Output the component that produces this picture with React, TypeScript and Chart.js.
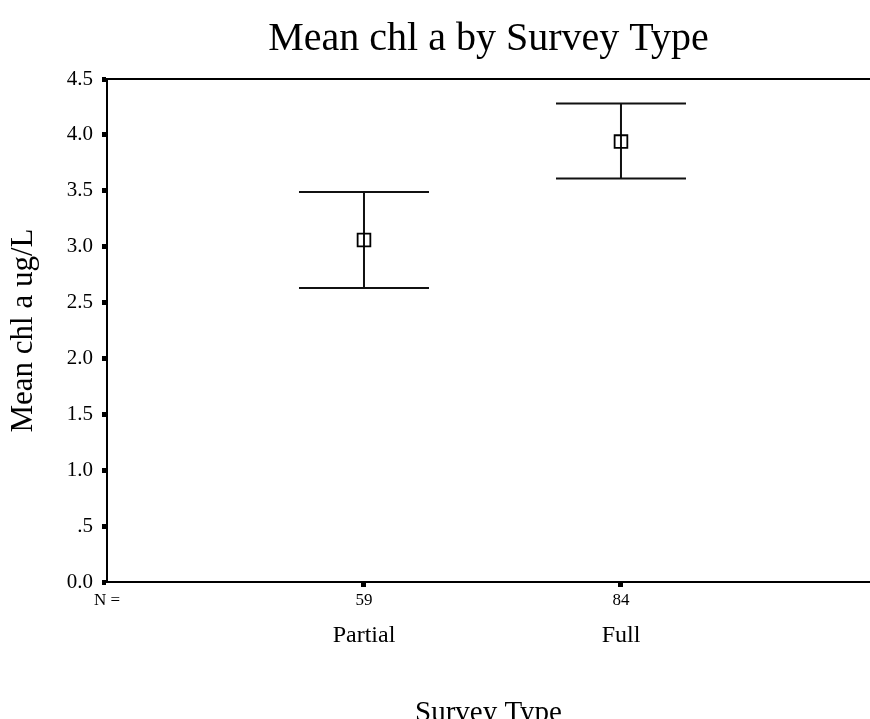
import React, { useEffect, useRef } from 'react';
import Chart from 'chart.js/auto';

const chartTitle = 'Mean chl a by Survey Type';
const yAxisTitle = 'Mean chl a ug/L';
const xAxisTitle = 'Survey Type';
const nPrefix = 'N =';

const categories = ['Partial', 'Full'];
const nCounts = ['59', '84'];
const categoryPositions = [1, 2];
const means = [3.06, 3.94];
const upperBounds = [3.49, 4.28];
const lowerBounds = [2.63, 3.61];

const yTickValues = [0, 0.5, 1, 1.5, 2, 2.5, 3, 3.5, 4, 4.5];
const yTickLabels = ['0.0', '.5', '1.0', '1.5', '2.0', '2.5', '3.0', '3.5', '4.0', '4.5'];

const FONT = '"Liberation Serif", "Times New Roman", serif';
const CAP_HALF = 65;
const X_MAX = 2.969;

const errorBarPlugin = {
  id: 'errorBars',
  beforeDatasetsDraw(chart: any) {
    const { ctx, scales } = chart;
    const x = scales.x;
    const y = scales.y;
    ctx.save();
    ctx.strokeStyle = '#111';
    ctx.lineWidth = 2;
    categoryPositions.forEach((p, i) => {
      const px = x.getPixelForValue(p);
      const top = y.getPixelForValue(upperBounds[i]);
      const bot = y.getPixelForValue(lowerBounds[i]);
      ctx.beginPath();
      ctx.moveTo(px, top);
      ctx.lineTo(px, bot);
      ctx.moveTo(px - CAP_HALF, top);
      ctx.lineTo(px + CAP_HALF, top);
      ctx.moveTo(px - CAP_HALF, bot);
      ctx.lineTo(px + CAP_HALF, bot);
      ctx.stroke();
    });
    ctx.restore();
  },
};

const topBorderPlugin = {
  id: 'topBorder',
  afterDraw(chart: any) {
    const { ctx, chartArea } = chart;
    ctx.save();
    ctx.strokeStyle = '#000';
    ctx.lineWidth = 2;
    ctx.beginPath();
    ctx.moveTo(chartArea.left, chartArea.top);
    ctx.lineTo(chartArea.right, chartArea.top);
    ctx.stroke();
    ctx.restore();
  },
};

const tickColorX = (c: any) => (c.tick && c.tick.value === 0 ? 'rgba(0,0,0,0)' : '#000');

export default function App() {
  const ref = useRef<HTMLCanvasElement | null>(null);

  useEffect(() => {
    if (!ref.current) return;
    const chart = new Chart(ref.current, {
      type: 'scatter',
      data: {
        datasets: [
          {
            data: categoryPositions.map((p, i) => ({ x: p, y: means[i] })),
            pointStyle: 'rect',
            pointRadius: 9,
            pointHoverRadius: 9,
            borderColor: '#000',
            borderWidth: 1.8,
            backgroundColor: 'rgba(0,0,0,0)',
          },
        ],
      },
      plugins: [errorBarPlugin, topBorderPlugin],
      options: {
        responsive: false,
        animation: false,
        devicePixelRatio: 1,
        layout: { padding: 0, autoPadding: false },
        plugins: {
          legend: { display: false },
          tooltip: { enabled: false },
          title: {
            display: true,
            text: chartTitle,
            fullSize: false,
            color: '#000',
            font: { family: FONT, size: 40, weight: 'normal' },
            padding: { top: 15, bottom: 16 },
          },
        },
        scales: {
          x: {
            type: 'linear',
            position: 'bottom',
            min: 0,
            max: X_MAX,
            weight: 0,
            afterBuildTicks: (s: any) => {
              s.ticks = [0, ...categoryPositions].map((v) => ({ value: v }));
            },
            ticks: {
              autoSkip: false,
              maxRotation: 0,
              color: '#000',
              padding: 3,
              font: { family: FONT, size: 17 },
              callback: (v: any) => (v === 0 ? nPrefix : nCounts[categoryPositions.indexOf(v)]),
            },
            grid: {
              display: true,
              drawOnChartArea: false,
              drawTicks: true,
              tickLength: 5,
              tickWidth: 5,
              color: tickColorX,
              tickColor: tickColorX,
            },
            border: { display: true, color: '#000', width: 2 },
            afterFit: (s: any) => {
              s.height = 36;
            },
          },
          x2: {
            type: 'linear',
            position: 'bottom',
            min: 0,
            max: X_MAX,
            weight: 1,
            afterBuildTicks: (s: any) => {
              s.ticks = categoryPositions.map((v) => ({ value: v }));
            },
            ticks: {
              autoSkip: false,
              maxRotation: 0,
              color: '#000',
              padding: 3,
              font: { family: FONT, size: 24 },
              callback: (v: any) => categories[categoryPositions.indexOf(v)],
            },
            grid: { display: false, drawTicks: false },
            border: { display: false },
            title: {
              display: true,
              text: xAxisTitle,
              color: '#000',
              font: { family: FONT, size: 29 },
              padding: { top: 0, bottom: 9 },
            },
            afterFit: (s: any) => {
              s.height = 122;
            },
          },
          y: {
            type: 'linear',
            position: 'left',
            min: 0,
            max: 4.5,
            afterBuildTicks: (s: any) => {
              s.ticks = yTickValues.map((v) => ({ value: v }));
            },
            ticks: {
              color: '#000',
              padding: 9,
              font: { family: FONT, size: 21 },
              callback: (v: any) => yTickLabels[yTickValues.indexOf(v)],
            },
            grid: {
              display: true,
              drawOnChartArea: false,
              drawTicks: true,
              tickLength: 5,
              tickWidth: 5,
              color: '#000',
              tickColor: '#000',
            },
            border: { display: true, color: '#000', width: 2 },
            title: {
              display: true,
              text: yAxisTitle,
              color: '#000',
              font: { family: FONT, size: 31 },
              padding: { top: 5, bottom: 0 },
            },
            afterFit: (s: any) => {
              s.width = 107;
            },
          },
        },
      } as any,
    });
    return () => chart.destroy();
  }, []);

  return (
    <div
      style={{
        position: 'fixed',
        left: 0,
        top: 0,
        width: 870,
        height: 719,
        overflow: 'hidden',
        background: '#fff',
      }}
    >
      <canvas ref={ref} width={870} height={740} style={{ display: 'block' }} />
    </div>
  );
}
